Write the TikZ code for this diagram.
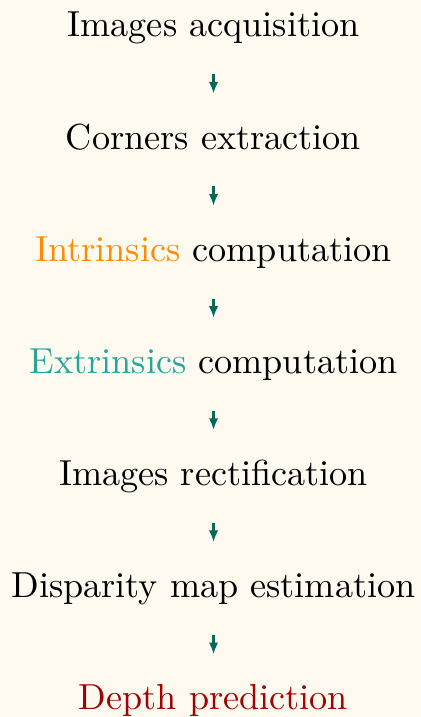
\documentclass[tikz,border=0pt]{standalone}
\usepackage{tikz}
\usetikzlibrary{positioning, arrows.meta}
\definecolor{paper}{RGB}{255,250,240}
\definecolor{arrowteal}{RGB}{0,105,92}
\definecolor{intrcol}{RGB}{255,140,0}
\definecolor{extrcol}{RGB}{38,166,154}
\definecolor{depthcol}{RGB}{160,0,0}

\begin{document}
\begin{tikzpicture}[>={Latex[length=3.2pt,width=2.6pt]},
    stage/.style={inner xsep=0pt, inner ysep=8.4pt, outer sep=0pt, text height=6.94pt, text depth=1.94pt},
    flow/.style={->, arrowteal, line width=0.6pt},
    node distance=5.3pt]
    \useasboundingbox[fill=paper] (-59pt,10.2pt) rectangle (57.3pt,-187.9pt);
\node[stage, anchor=base] (acq) at (0,0) {Images acquisition};
\node[stage, below=of acq] (corners) {Corners extraction};
\node[stage, below=of corners] (intr) {\textcolor{intrcol}{Intrinsics} computation};
\node[stage, below=of intr] (extr) {\textcolor{extrcol}{Extrinsics} computation};
\node[stage, below=of extr] (rect) {Images rectification};
\node[stage, below=of rect] (disp) {Disparity map estimation};
\node[stage, below=of disp, depthcol] (depth) {Depth prediction};
\draw[flow] (acq) -- (corners);
\draw[flow] (corners) -- (intr);
\draw[flow] (intr) -- (extr);
\draw[flow] (extr) -- (rect);
\draw[flow] (rect) -- (disp);
\draw[flow] (disp) -- (depth);
  \end{tikzpicture}
\end{document}
